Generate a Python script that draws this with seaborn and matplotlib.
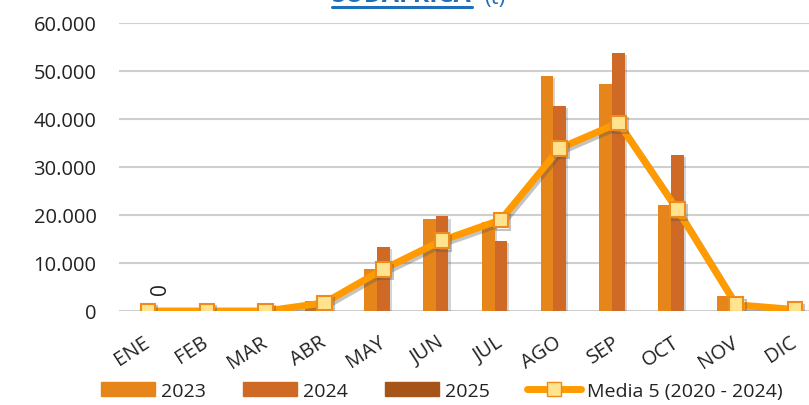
import numpy as np
import pandas as pd
import matplotlib
matplotlib.use("Agg")
import matplotlib.pyplot as plt
import matplotlib.patheffects as pe
from matplotlib.patches import Patch
from matplotlib.lines import Line2D
from matplotlib.ticker import FuncFormatter
import seaborn as sns

# Datos (t)
meses = ["ENE", "FEB", "MAR", "ABR", "MAY", "JUN", "JUL", "AGO", "SEP", "OCT", "NOV", "DIC"]
t_2023 = [0, 0, 0, 2000, 8700, 19200, 18500, 48900, 47300, 22100, 3200, 0]
t_2024 = [0, 0, 0, 1500, 13300, 19700, 14600, 42800, 53700, 32600, 1200, 0]
t_2025 = [0] + [np.nan] * 11
media_5 = [0, 0, 0, 1700, 8700, 14700, 19000, 33900, 39200, 21100, 1300, 300]

anios = ["2023", "2024", "2025"]
colores = ["#E6861A", "#CE6A26", "#A6541A"]
color_media = "#FF9A00"

df = pd.DataFrame({
    "mes": meses * 3,
    "anio": [a for a in anios for _ in meses],
    "t": t_2023 + t_2024 + t_2025,
})
df_media = pd.DataFrame({"mes": meses, "media": media_5})

sns.set_style("white")
plt.rcParams["font.family"] = ["Open Sans", "DejaVu Sans"]

fig = plt.figure(figsize=(8.09, 4.06), dpi=100)
ax = fig.add_axes([118.6 / 809, 94 / 406, 705.8 / 809, 288 / 406])

sns.barplot(data=df, x="mes", y="t", hue="anio", hue_order=anios, palette=colores,
            width=0.65, errorbar=None, saturation=1, ax=ax, legend=False,
            linewidth=0)

# etiqueta "0" para 2025 (girada)
etiquetas = ax.bar_label(ax.containers[2], labels=["0"] + [""] * (len(ax.containers[2]) - 1),
                         padding=12, fontsize=15, color="#222222")
for et in etiquetas:
    et.set_rotation(90)
    et.set_rotation_mode("anchor")
    et.set_ha("left")
    et.set_va("center")

sns.pointplot(data=df_media, x="mes", y="media", color=color_media, markers="s",
              markersize=10.5, linewidth=5, ax=ax, errorbar=None)
linea = ax.lines[-1]
linea.set_markerfacecolor("#FFE38F")
linea.set_markeredgecolor("#F08A1A")
linea.set_markeredgewidth(1.5)
linea.set_path_effects([pe.SimpleLineShadow(offset=(1.5, -2), shadow_color="#555555", alpha=0.35),
                        pe.Normal()])
for bar in ax.patches:
    bar.set_path_effects([pe.withSimplePatchShadow(offset=(1.5, -1.5), shadow_rgbFace="#555555", alpha=0.25)])

ax.set_ylim(0, 60000)
ax.set_yticks(np.arange(0, 60001, 10000))
ax.yaxis.set_major_formatter(FuncFormatter(lambda v, p: f"{int(v):,}".replace(",", ".")))
ax.grid(axis="y", color="#CFCFCF", linewidth=1.5)
ax.set_axisbelow(True)
sns.despine(ax=ax, left=True, bottom=True)
ax.set_xlabel("")
ax.set_ylabel("")
ax.tick_params(axis="y", length=0, pad=16, labelsize=14.5, labelcolor="#222222")
ax.tick_params(axis="x", length=0, pad=21, labelsize=14.5, labelcolor="#222222")
for lab in ax.get_xticklabels():
    lab.set_rotation(33)
    lab.set_ha("right")
    lab.set_va("center")
    lab.set_rotation_mode("anchor")

# titulo (cortado arriba)
tit = fig.text(332 / 809, 1 - 2 / 406, "SUDAFRICA", fontsize=18, fontweight="bold",
               color="#1F6FB8", ha="left", va="baseline")
fig.text(484 / 809, 1 - 4 / 406, "(t)", fontsize=16, color="#1F6FB8", ha="left", va="baseline")
fig.canvas.draw()
bb = tit.get_window_extent().transformed(fig.transFigure.inverted())
fig.add_artist(Line2D([bb.x0, bb.x1], [1 - 7.5 / 406] * 2, color="#1F6FB8", linewidth=2.2,
                      transform=fig.transFigure))

handles = [Patch(color=c, label=a) for a, c in zip(anios, colores)]
handles.append(Line2D([], [], color=color_media, linewidth=5, marker="s", markersize=10,
                      markerfacecolor="#FFE38F", markeredgecolor="#F08A1A",
                      label="Media 5 (2020 - 2024)"))
fig.legend(handles=handles, loc="center left", bbox_to_anchor=(83 / 809, 1 - 392 / 406),
           ncol=4, frameon=False, fontsize=14, handlelength=2.8, handleheight=0.7,
           handletextpad=0.3, columnspacing=1.9, labelcolor="#222222")

fig.savefig("out.png", dpi=100)
